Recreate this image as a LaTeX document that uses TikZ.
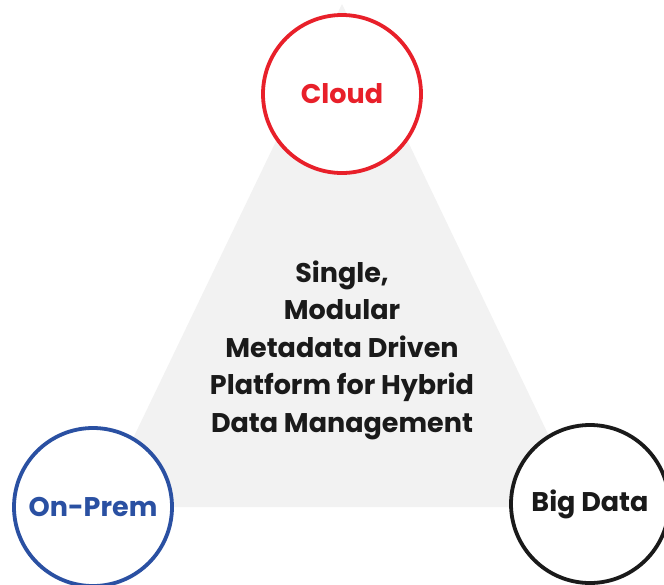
\documentclass[tikz,border=0pt]{standalone}
\usepackage{fontspec}
\setmainfont{Poppins}
\definecolor{cloudred}{HTML}{E8202A}
\definecolor{prembluec}{HTML}{2A50A2}
\definecolor{bigblack}{HTML}{1A1A1A}
\definecolor{trigray}{HTML}{F2F2F2}
\begin{document}
\begin{tikzpicture}[x=1pt,y=-1pt,
  ring/.style={circle, draw=#1, line width=3.8pt, fill=white, minimum size=158pt, inner sep=0pt, text=#1,
     font=\fontsize{27}{30}\selectfont\bfseries},
  centertext/.style={align=center, text=bigblack, font=\fontsize{27}{37.5}\selectfont\bfseries}]
\useasboundingbox (0,0) rectangle (664,584);
\fill[trigray] (342,4) -- (583,507) -- (100,507) -- cycle;
\node[centertext] (core) at (342,350) {Single,\\Modular\\Metadata Driven\\Platform for Hybrid\\Data Management};
\node[ring=cloudred] (cloud) at (342,94) {Cloud};
\node[ring=prembluec] (onprem) at (93,507) {On-Prem};
\node[ring=bigblack] (bigdata) at (590,504) {Big Data};
\end{tikzpicture}
\end{document}
